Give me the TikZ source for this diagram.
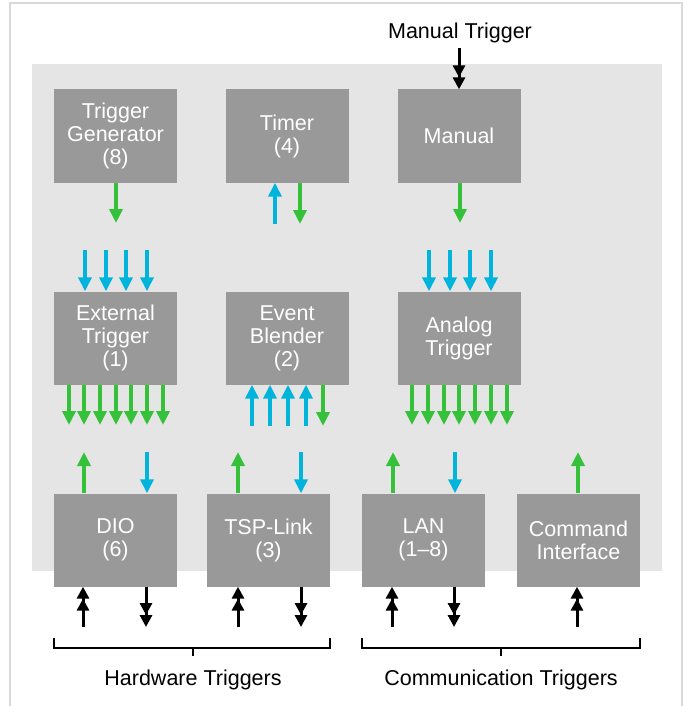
\documentclass[tikz,border=0pt]{standalone}
\usepackage{fontspec}
\setmainfont{Liberation Sans}
\usetikzlibrary{positioning, arrows.meta}
\definecolor{bggray}{HTML}{E5E5E5}
\definecolor{boxgray}{HTML}{999999}
\definecolor{framegray}{HTML}{D9D9D9}
\definecolor{trgreen}{HTML}{35C13A}
\definecolor{trblue}{HTML}{00B4DC}

\begin{document}
\begin{tikzpicture}[x=1pt,y=-1pt]
		\tikzstyle{block} = [fill=boxgray, text=white, minimum width=123pt, minimum height=93pt, inner sep=0, align=center, font=\fontsize{21.5}{23}\selectfont]
		\tikzstyle{green_arr} = [-{Triangle[width=13pt,length=14pt]}, line width=3.5pt, trgreen]
		\tikzstyle{blue_arr} = [-{Triangle[width=13pt,length=14pt]}, line width=3.5pt, trblue]
		\tikzstyle{black_arr} = [-{Triangle[width=12pt,length=12pt] Triangle[width=12pt,length=12pt]}, line width=3pt, black]
		\tikzstyle{caption} = [inner sep=0, anchor=base, font=\fontsize{21.5}{23}\selectfont]
		\tikzstyle{invisible} = [outer sep=0,inner sep=0,minimum size=0]
		\useasboundingbox (0,0) rectangle (688,706);
		\draw [framegray, line width=1.2pt] (10,706) -- (10,3) -- (682,3) -- (682,706);
		\fill [bggray] (32,64) rectangle (662,571);
		% top row
		\node [block] (gen) at (115.5,136) {Trigger\\Generator\\(8)};
		\node [block] (timer) at (287,136) {Timer\\(4)};
		\node [block] (manual) at (459,136) {Manual};
		% middle row
		\node [block] (ext) at (115.5,338) {External\\Trigger\\(1)};
		\node [block] (blend) at (287,338) {Event\\Blender\\(2)};
		\node [block] (analog) at (459,338) {Analog\\Trigger};
		% bottom row
		\node [block] (dio) at (115.5,540) {DIO\\(6)};
		\node [block] (tsp) at (268.5,540) {TSP-Link\\(3)};
		\node [block] (lan) at (423.5,540) {LAN\\(1--8)};
		\node [block] (cmd) at (578.5,540) {Command\\Interface};
		% manual trigger input
		\node [caption] (mantrig) at (460,39) {Manual Trigger};
		\node [invisible] (v1) at (459,48) {};
		\draw [black_arr] (v1) -- (v1 |- manual.north);
		% top row outputs
		\node [invisible] (v2) at (116,223) {};
		\draw [green_arr] (v2 |- gen.south) -- (v2);
		\node [invisible] (v3) at (275,224) {};
		\draw [blue_arr] (v3) -- (v3 |- timer.south);
		\node [invisible] (v4) at (300,224) {};
		\draw [green_arr] (v4 |- timer.south) -- (v4);
		\node [invisible] (v5) at (460,223) {};
		\draw [green_arr] (v5 |- manual.south) -- (v5);
		% inputs of the middle row
		\foreach \x in {85,106,126,147}
			\draw [blue_arr] (\x,250) -- (\x,250 |- ext.north);
		\foreach \x in {429,450,470,491}
			\draw [blue_arr] (\x,250) -- (\x,250 |- analog.north);
		% middle row outputs
		\foreach \x in {69,84,100,116,131,147,163}
			\draw [green_arr] (\x,425 |- ext.south) -- (\x,425);
		\foreach \x in {412,428,444,459,475,491,507}
			\draw [green_arr] (\x,425 |- analog.south) -- (\x,425);
		\foreach \x in {252,270,288,306}
			\draw [blue_arr] (\x,426) -- (\x,426 |- blend.south);
		\draw [green_arr] (323,426 |- blend.south) -- (323,426);
		% bottom row, upper side
		\draw [green_arr] (84,452 |- dio.north) -- (84,452);
		\draw [blue_arr] (147,452) -- (147,452 |- dio.north);
		\draw [green_arr] (238,452 |- tsp.north) -- (238,452);
		\draw [blue_arr] (301,452) -- (301,452 |- tsp.north);
		\draw [green_arr] (393,452 |- lan.north) -- (393,452);
		\draw [blue_arr] (455,452) -- (455,452 |- lan.north);
		\draw [green_arr] (578,452 |- cmd.north) -- (578,452);
		% bottom row, lower side
		\draw [black_arr] (83,627) -- (83,627 |- dio.south);
		\draw [black_arr] (146,627 |- dio.south) -- (146,627);
		\draw [black_arr] (238,627) -- (238,627 |- tsp.south);
		\draw [black_arr] (301,627 |- tsp.south) -- (301,627);
		\draw [black_arr] (392,627) -- (392,627 |- lan.south);
		\draw [black_arr] (454,627 |- lan.south) -- (454,627);
		\draw [black_arr] (577,627) -- (577,627 |- cmd.south);
		% brackets
		\draw [line width=1.5pt] (dio.west |- 0,638) -- (dio.west |- 0,648) -- (tsp.east |- 0,648) -- (tsp.east |- 0,638);
		\draw [line width=1.5pt] (193,648) -- (193,656);
		\draw [line width=1.5pt] (lan.west |- 0,638) -- (lan.west |- 0,648) -- (cmd.east |- 0,648) -- (cmd.east |- 0,638);
		\draw [line width=1.5pt] (501,648) -- (501,656);
		\node [caption] (hwtrig) at (193,685) {Hardware Triggers};
		\node [caption] (commtrig) at (501,685) {Communication Triggers};
\end{tikzpicture}
\end{document}
